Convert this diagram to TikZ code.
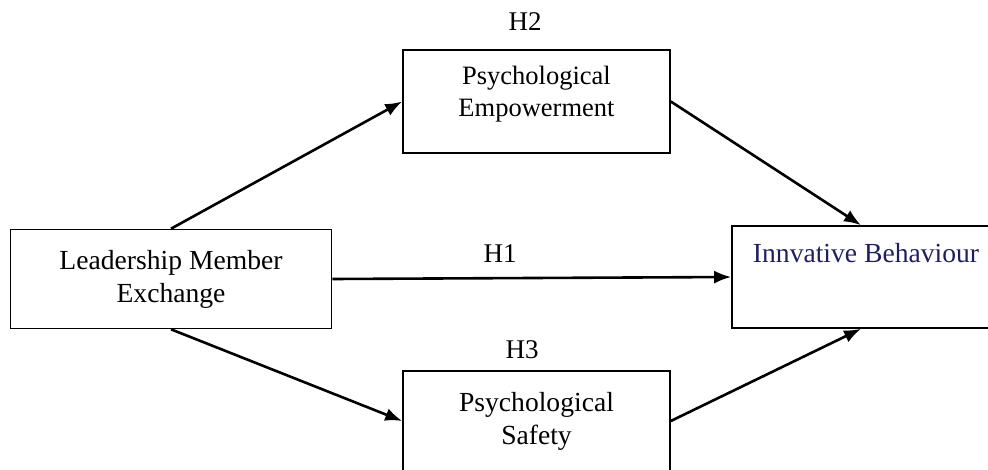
\documentclass[tikz,border=0pt]{standalone}
\usepackage{fontspec}
\setmainfont{Liberation Serif}
\usetikzlibrary{arrows.meta}
\definecolor{ibnavy}{HTML}{1F1F5E}
\begin{document}
\begin{tikzpicture}[x=1pt,y=-1pt,
  box/.style={draw=black, line width=1.6pt, inner sep=0pt, align=center,
    font=\fontsize{27.6}{33}\selectfont},
  inlabel/.style={align=center, inner sep=0pt},
  hlabel/.style={font=\fontsize{27}{33}\selectfont},
  conn/.style={line width=2.6pt, -{Latex[length=17pt,width=13pt]}}]
\useasboundingbox (0,0) rectangle (988,469);
\node[box, minimum width=267pt, minimum height=103pt,
  label={[inlabel, font=\fontsize{26.5}{32}\selectfont, yshift=7pt]center:Psychological\\Empowerment}] (PE) at (536.5,101.5) {};
\node[box, minimum width=321pt, minimum height=99pt] (LME) at (171,279) {Leadership Member\\Exchange};
\node[box, minimum width=258pt, minimum height=102pt,
  label={[inlabel, font=\fontsize{27.6}{33}\selectfont, text=ibnavy, xshift=5pt, yshift=24pt]center:Innvative Behaviour}] (IB) at (861,277) {};
\node[box, minimum width=267pt, minimum height=100pt] (PS) at (536.5,421) {Psychological\\Safety};
\node[hlabel] (H2) at (525,22) {H2};
\node[hlabel] (H1) at (500,254) {H1};
\node[hlabel] (H3) at (522,350) {H3};
\draw[conn] (LME.north) -- (PE.west);
\draw[conn] (PE.east) -- (IB.north);
\draw[conn] (LME.east) -- (IB.west);
\draw[conn] (LME.south) -- (PS.west);
\draw[conn] (PS.east) -- (IB.south);
\end{tikzpicture}
\end{document}
